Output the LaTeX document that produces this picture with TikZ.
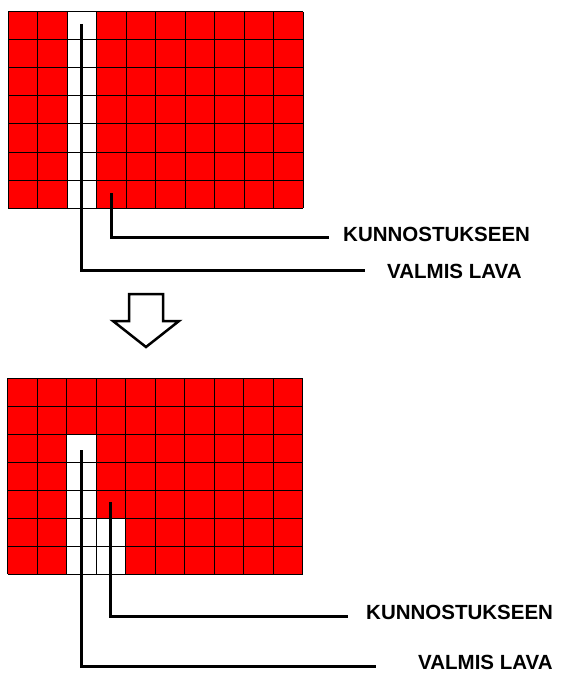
\documentclass[tikz,border=0pt]{standalone}
\usepackage{fontspec}
\setmainfont{Liberation Sans}
\begin{document}
\begin{tikzpicture}[x=1pt,y=-1pt,
  cellred/.style={fill={rgb,255:red,255;green,0;blue,0}},
  gridline/.style={draw=black,line width=1pt},
  leader/.style={draw=black,line width=3pt,line cap=butt,line join=miter},
  tag/.style={font=\bfseries\fontsize{20.5}{24}\selectfont,anchor=west,inner sep=0pt},
  bigarrow/.style={draw=black,line width=2.5pt,line join=miter,fill=white}]
\useasboundingbox (0,0) rectangle (560,674);

% ---- upper pallet grid: one white column ----
\begin{scope}[shift={(8,12)}]
  \fill[cellred] (0,0) rectangle (295,196);
  \fill[white] (59,0) rectangle (88.5,196);
  \foreach \i in {0,...,10} \draw[gridline] (\i*29.5,0) -- (\i*29.5,196);
  \foreach \j in {0,...,7} \draw[gridline] (0,\j*28) -- (295,\j*28);
\end{scope}

% ---- lower pallet grid: L-shaped white area ----
\begin{scope}[shift={(7.5,378)}]
  \fill[cellred] (0,0) rectangle (295,196);
  \fill[white] (59,56) rectangle (88.5,196);
  \fill[white] (88.5,140) rectangle (118,196);
  \foreach \i in {0,...,10} \draw[gridline] (\i*29.5,0) -- (\i*29.5,196);
  \foreach \j in {0,...,7} \draw[gridline] (0,\j*28) -- (295,\j*28);
\end{scope}

% ---- labels ----
\node[tag] (k1) at (343,234) {KUNNOSTUKSEEN};
\node[tag] (v1) at (387,271) {VALMIS LAVA};
\node[tag] (k2) at (366,612) {KUNNOSTUKSEEN};
\node[tag] (v2) at (418,662) {VALMIS LAVA};

% ---- leader lines, upper grid ----
\coordinate (k1s) at (111,193);
\coordinate (k1e) at (329,237.5);
\coordinate (v1s) at (81.5,24);
\coordinate (v1e) at (365,270);
\draw[leader] (k1s) |- (k1e);
\draw[leader] (v1s) |- (v1e);

% ---- leader lines, lower grid ----
\coordinate (k2s) at (110,502);
\coordinate (k2e) at (348,616);
\coordinate (v2s) at (81.5,450);
\coordinate (v2e) at (376,666);
\draw[leader] (k2s) |- (k2e);
\draw[leader] (v2s) |- (v2e);

% ---- downward block arrow between the grids ----
\draw[bigarrow] (129,294) -- (163,294) -- (163,321) -- (179,321)
  -- (146,347) -- (113,321) -- (129,321) -- cycle;
\end{tikzpicture}
\end{document}
